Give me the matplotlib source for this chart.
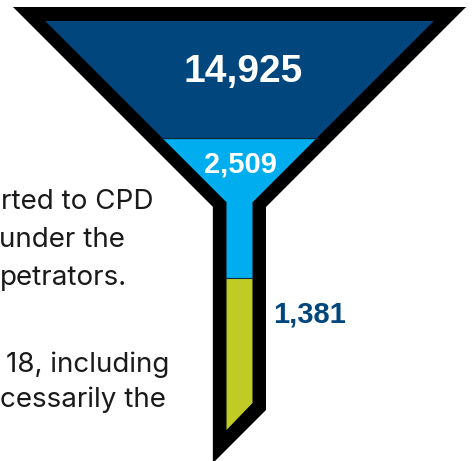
import matplotlib.pyplot as plt
from matplotlib.patches import Polygon

# funnel stages (top to bottom)
stage_values = [14925, 2509, 1381]
stage_colors = ['#01467D', '#00AEEF', '#C0CB25']

# text that sits to the left of the funnel (cut off on the left in the source)
side_lines = ['rted to CPD', 'under the', 'petrators.', '', '18, including', 'cessarily the']

W, H = 474, 461
fig = plt.figure(figsize=(W / 100, H / 100), dpi=100)
ax = fig.add_axes([0, 0, 1, 1])
ax.set_xlim(0, W)
ax.set_ylim(H, 0)
ax.axis('off')

# funnel geometry, in pixels
cx = 239.5
top_y, cone_y = 7, 207
outer_half, neck_half = 226.5, 26.5
border = 14
inner_top = top_y + border
inner_half = outer_half - border * 2.3
in_neck = neck_half - 13.5
split1, split2 = 138, 278
bottom_r, bottom_l = 403, 430


def xl(y, half_top, y0):
    # left edge of a 45 degree cone
    return cx - half_top + (y - y0)


outer = [(cx - outer_half, top_y), (cx + outer_half, top_y),
         (cx + neck_half, cone_y), (cx + neck_half, 410),
         (cx - neck_half, 463), (cx - neck_half, cone_y)]
ax.add_patch(Polygon(outer, closed=True, fc='black', ec='none'))

in_cone = inner_top + (inner_half - in_neck)
l1 = xl(split1, inner_half, inner_top)
seg1 = [(cx - inner_half, inner_top), (cx + inner_half, inner_top),
        (2 * cx - l1, split1), (l1, split1)]
seg2 = [(l1, split1), (2 * cx - l1, split1), (cx + in_neck, in_cone),
        (cx + in_neck, split2), (cx - in_neck, split2), (cx - in_neck, in_cone)]
seg3 = [(cx - in_neck, split2), (cx + in_neck, split2),
        (cx + in_neck, bottom_r), (cx - in_neck, bottom_l)]
for pts, col in zip([seg1, seg2, seg3], stage_colors):
    ax.add_patch(Polygon(pts, closed=True, fc=col, ec='none'))
ax.plot([l1, 2 * cx - l1], [split1, split1], color='#0B2A44', lw=1)
ax.plot([cx - in_neck, cx + in_neck], [split2, split2], color='#0B2A44', lw=0.8)

# faint frame lines of the original graphic
ax.plot([cx - outer_half, cx + outer_half], [top_y, top_y], color='#D4D4D4', lw=0.8, zorder=0)
ax.plot([cx - neck_half - 0.7] * 2, [cone_y, H], color='#D4D4D4', lw=0.8, zorder=0)

lab = [f'{v:,}' for v in stage_values]
bold = dict(family='Liberation Sans', fontweight='bold')
ax.text(243, 82, lab[0], color='white', fontsize=28, ha='center', va='baseline', **bold)
ax.text(240, 172, lab[1], color='white', fontsize=21, ha='center', va='baseline', **bold)
ax.text(273, 322, lab[2], color='#01467D', fontsize=21, ha='left', va='baseline', **bold)

# centre of each visible line, so the font difference splits both ways
mids = [77, 62, 63, 0, 88, 83]
bases = [209, 247, 285, 0, 372, 407]
for s, xm, yb in zip(side_lines, mids, bases):
    if s:
        ax.text(xm, yb, s, color='#1A1A1A', fontsize=20, family='Inter',
                ha='center', va='baseline')

fig.savefig('out.png', dpi=100)
